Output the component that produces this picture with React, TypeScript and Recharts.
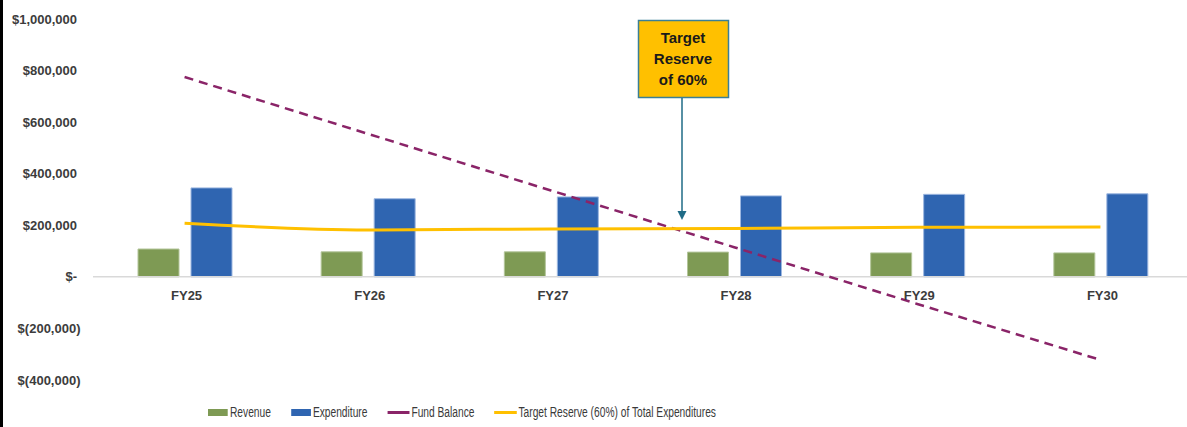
import React from 'react';
import {
  ComposedChart,
  Bar,
  Line,
  XAxis,
  YAxis,
  ReferenceLine,
} from 'recharts';

const categories = ['FY25', 'FY26', 'FY27', 'FY28', 'FY29', 'FY30'];
const revenue = [108000, 97000, 97000, 96000, 93000, 93000];
const expenditure = [345000, 303000, 310000, 314000, 320000, 322000];
const fundBalance = [775000, 555000, 335000, 115000, -105000, -322000];
const targetReserve = [208000, 182000, 186000, 188000, 192000, 193000];
const yTicks = [-400000, -200000, 0, 200000, 400000, 600000, 800000, 1000000];

const Y_MIN = -400000;
const Y_MAX = 1000000;
const TOP = 19;
const PLOT_H = 361;

const legendItems = [
  { name: 'Revenue', color: '#7E9A54', kind: 'bar' },
  { name: 'Expenditure', color: '#2F65B1', kind: 'bar' },
  { name: 'Fund Balance', color: '#8A2468', kind: 'line' },
  { name: 'Target Reserve (60%) of Total Expenditures', color: '#FFC000', kind: 'line' },
];

const data = categories.map((fy, i) => ({
  fy,
  revenue: revenue[i],
  expenditure: expenditure[i],
  fundBalance: fundBalance[i],
  target: targetReserve[i],
}));

const fmt = (v: number) => {
  if (v === 0) return '$-';
  const s = Math.abs(v).toLocaleString('en-US');
  return v < 0 ? `$(${s})` : `$${s}`;
};

const YTick = (props: any) => {
  const { x, y, payload } = props;
  const v = payload.value as number;
  return (
    <text
      x={x + (v < 0 ? 3.5 : 0)}
      y={y}
      dy={4.5}
      textAnchor="end"
      fontFamily="'Liberation Sans', Arial, sans-serif"
      fontWeight="bold"
      fontSize={13}
      fill="#3c3c3c"
    >
      {fmt(v)}
    </text>
  );
};

// category labels sit just under the zero line, not at the plot bottom
const zeroY = TOP + (Y_MAX / (Y_MAX - Y_MIN)) * PLOT_H;
const XTick = (props: any) => {
  const { x, payload } = props;
  return (
    <text
      x={x + 2}
      y={zeroY + 23}
      textAnchor="middle"
      fontFamily="'Liberation Sans', Arial, sans-serif"
      fontWeight="bold"
      fontSize={13}
      fill="#3c3c3c"
    >
      {payload.value}
    </text>
  );
};

// no narrow font installed, so the legend is squeezed horizontally
const SQUEEZE = 0.73;

function Legend() {
  return (
    <div
      style={{
        position: 'absolute',
        left: 208,
        top: 404,
        display: 'flex',
        alignItems: 'center',
        fontFamily: "'Liberation Sans', Arial, sans-serif",
        fontSize: 14,
        color: '#3a3a3a',
        whiteSpace: 'nowrap',
        transform: `scaleX(${SQUEEZE})`,
        transformOrigin: 'left center',
      }}
    >
      {legendItems.map((it) => (
        <div
          key={it.name}
          style={{ display: 'flex', alignItems: 'center', marginRight: 20 / SQUEEZE }}
        >
          <div
            style={{
              width: (it.kind === 'bar' ? 20 : 22) / SQUEEZE,
              height: it.kind === 'bar' ? 7 : 3,
              background: it.color,
              marginRight: 2 / SQUEEZE,
            }}
          />
          <span>{it.name}</span>
        </div>
      ))}
    </div>
  );
}

function Callout() {
  return (
    <svg
      width={1187}
      height={427}
      style={{ position: 'absolute', left: 0, top: 0, pointerEvents: 'none' }}
    >
      <rect x={638.5} y={20.5} width={90} height={77} fill="#FFC000" stroke="#3A7F97" strokeWidth={1.5} />
      <g
        fontFamily="'Liberation Sans', Arial, sans-serif"
        fontWeight="bold"
        fontSize={15}
        fill="#1a1a1a"
        textAnchor="middle"
      >
        <text x={683} y={43}>Target</text>
        <text x={683} y={64}>Reserve</text>
        <text x={683} y={85}>of 60%</text>
      </g>
      <line x1={682} y1={98} x2={682} y2={212} stroke="#1F6B86" strokeWidth={1.5} />
      <polygon points="677.5,211 686.5,211 682,220" fill="#1F6B86" />
    </svg>
  );
}

export default function App() {
  return (
    <div
      style={{
        position: 'absolute',
        left: 0,
        top: 0,
        width: 1187,
        height: 427,
        overflow: 'hidden',
        background: '#fff',
      }}
    >
      <ComposedChart
        width={1192}
        height={427}
        data={data}
        margin={{ top: TOP, right: 0, bottom: 27, left: 0 }}
        barGap={12}
        barSize={41}
      >
        <XAxis
          dataKey="fy"
          height={20}
          axisLine={false}
          tickLine={false}
          tick={<XTick />}
          interval={0}
        />
        <YAxis
          width={93}
          domain={[Y_MIN, Y_MAX]}
          ticks={yTicks}
          axisLine={false}
          tickLine={false}
          tickMargin={10}
          tick={<YTick />}
          interval={0}
        />
        <ReferenceLine y={0} stroke="#D9D9D9" strokeWidth={1.5} />
        <Bar
          dataKey="revenue"
          fill="#7E9A54"
          stroke="#B3C59A"
          strokeWidth={1}
          isAnimationActive={false}
        />
        <Bar
          dataKey="expenditure"
          fill="#2F65B1"
          stroke="#9DB7E0"
          strokeWidth={1}
          isAnimationActive={false}
        />
        <Line
          type="linear"
          dataKey="fundBalance"
          stroke="#8A2468"
          strokeWidth={2.5}
          strokeDasharray="9 6"
          dot={false}
          isAnimationActive={false}
        />
        <Line
          type="monotone"
          dataKey="target"
          stroke="#FFC000"
          strokeWidth={3}
          dot={false}
          isAnimationActive={false}
        />
      </ComposedChart>
      <Callout />
      <Legend />
      <div style={{ position: 'absolute', left: 0, top: 0, width: 3, height: 427, background: '#000' }} />
    </div>
  );
}
